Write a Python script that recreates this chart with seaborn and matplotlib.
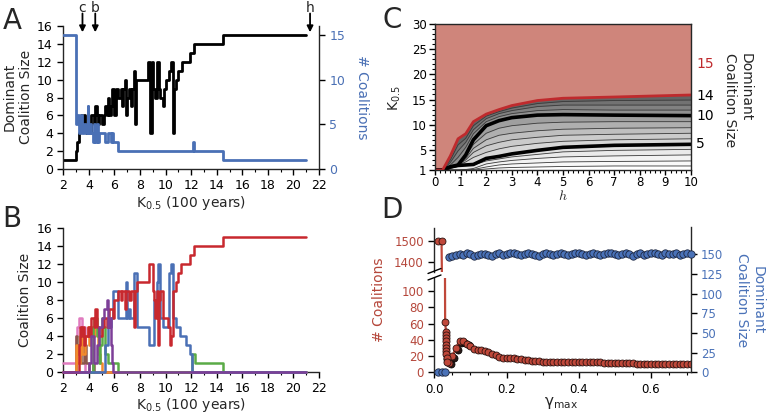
import numpy as np
import pandas as pd
import matplotlib
matplotlib.use("Agg")
import matplotlib.pyplot as plt
from matplotlib.ticker import MultipleLocator, FixedLocator
from matplotlib.lines import Line2D
import seaborn as sns

# ------------------------------------------------------------------ data
# Panel A: dominant coalition size and number of coalitions vs K0.5
dom_x = [2.0, 3.0, 3.1, 3.2, 3.3, 3.4, 3.5, 3.6, 3.7, 3.8,
         4.2, 4.4, 4.5, 4.6, 4.7, 4.8, 5.0, 5.2, 5.3, 5.4,
         5.5, 5.6, 5.7, 5.8, 6.0, 6.1, 6.3, 6.5, 6.6, 6.7,
         6.8, 6.9, 7.0, 7.1, 7.3, 7.4, 7.5, 7.6, 7.7, 8.6,
         8.8, 8.9, 9.0, 9.2, 9.3, 9.5, 9.6, 9.8, 9.9, 10.0,
         10.3, 10.4, 10.55, 10.65, 10.8, 11.0, 11.3, 11.9, 12.2, 14.5,
         21.0]
dom_y = [1, 2, 3, 4, 5, 6, 5, 6, 5, 4,
         6, 5, 7, 6, 5, 6, 5, 6, 7, 6,
         8, 6, 7, 9, 6, 9, 8, 9, 7, 9,
         10, 6, 8, 9, 7, 9, 11, 5, 10, 12,
         4, 12, 9, 8, 12, 9, 8, 7, 9, 10,
         11, 12, 4, 9, 10, 11, 12, 13, 14, 15,
         15]
ncoal_x = [2.0, 3.0, 3.1, 3.2, 3.3, 3.4, 3.5, 3.6, 3.8, 3.9,
           3.95, 4.1, 4.2, 4.3, 4.4, 4.5, 4.6, 4.7, 4.8, 5.3,
           5.5, 5.7, 5.8, 5.9, 6.3, 12.15, 12.25, 14.5, 21.0]
ncoal_y = [15, 5, 6, 4, 5, 6, 4, 5, 4, 7,
           4, 5, 4, 3, 5, 3, 5, 3, 4, 3,
           4, 3, 4, 3, 2, 3, 2, 1, 1]
arrow_labels = ["c", "b", "h"]
arrow_k = [3.5, 4.5, 21.3]

# Panel B: individual coalition sizes
pink_x = [2.0, 3.0, 3.1, 3.2, 3.45, 3.55, 3.7, 21.0]
pink_y = [1, 4, 5, 6, 3, 5, 0, 0]
brown_x = [2.0, 3.0, 3.1, 3.2, 3.4, 3.6, 3.8, 4.0, 4.3, 4.4, 21.0]
brown_y = [0, 4, 2, 3, 1, 3, 1, 0, 1, 0, 0]
orange_x = [2.0, 3.0, 3.1, 3.3, 3.5, 3.7, 3.9, 4.0, 4.1, 4.3, 4.5, 4.7, 4.9, 5.0, 21.0]
orange_y = [0, 3, 1, 4, 2, 4, 5, 3, 5, 4, 5, 2, 1, 0, 0]
green_x = [2.0, 4.3, 4.4, 4.6, 4.8, 4.9, 5.0, 5.1, 5.3, 5.5, 6.3, 12.1, 12.3, 14.5, 21.0]
green_y = [0, 5, 6, 4, 1, 3, 6, 5, 2, 1, 0, 2, 1, 0, 0]
blue_x = [2.0, 5.3, 5.5, 5.7, 5.9, 6.3, 6.9, 7.0, 7.1, 7.2,
          7.5, 7.8, 8.7, 9.1, 9.3, 9.4, 9.6, 9.8, 10.3, 10.45,
          10.6, 10.8, 11.1, 11.6, 11.9, 12.1, 21.0]
blue_y = [0, 3, 5, 6, 9, 6, 10, 6, 7, 6,
          11, 5, 3, 8, 10, 12, 6, 5, 11, 12,
          6, 5, 4, 3, 2, 0, 0]
red_x = [2.0, 3.2, 3.3, 3.4, 3.5, 3.6, 3.7, 3.9, 4.0, 4.2,
         4.4, 4.5, 4.6, 4.8, 5.0, 5.2, 5.4, 5.6, 5.9, 6.0,
         6.3, 6.5, 6.6, 6.8, 6.9, 7.1, 7.3, 7.5, 7.6, 7.8,
         8.7, 9.0, 9.1, 9.2, 9.3, 9.4, 9.5, 9.6, 9.8, 10.2,
         10.35, 10.45, 10.6, 10.8, 11.0, 11.2, 11.9, 12.2, 14.5, 21.0]
red_y = [0, 3, 5, 4, 5, 3, 4, 5, 4, 6,
         5, 7, 5, 4, 5, 6, 5, 7, 6, 8,
         9, 8, 9, 7, 9, 8, 9, 5, 9, 10,
         12, 9, 8, 6, 9, 3, 8, 9, 6, 5,
         3, 4, 9, 10, 11, 12, 13, 14, 15, 15]
purple_x = [2.0, 4.0, 4.2, 4.4, 4.6, 4.8, 5.0, 5.2, 5.4, 5.5, 5.6, 5.7, 5.8, 5.9, 21.0]
purple_y = [0, 1, 4, 1, 3, 5, 6, 7, 8, 5, 6, 3, 1, 0, 0]

# Panel C: K0.5 at which dominant coalition size n -> n+1, vs h
h_grid = [0, 0.3, 0.6, 0.9, 1.2, 1.5, 2.0, 2.5, 3.0, 4.0, 5.0, 7.0, 10.0]
k_size1 = [1, 1, 1, 1, 1, 1.0, 1.2, 1.4, 1.5, 1.6, 1.7, 1.8, 1.8]
k_size2 = [1, 1, 1, 1, 1, 1.1, 1.6, 2.0, 2.2, 2.4, 2.6, 2.7, 2.8]
k_size3 = [1, 1, 1, 1, 1.1, 1.3, 2.2, 2.6, 2.9, 3.3, 3.6, 3.8, 4.0]
k_size4 = [1, 1, 1.5, 1.8, 1.9, 2.0, 2.8, 3.2, 3.6, 4.1, 4.6, 4.9, 5.1]
k_size5 = [1, 1, 1.6, 1.9, 2.0, 2.1, 3.3, 3.7, 4.2, 4.9, 5.5, 5.9, 6.1]
k_size6 = [1, 1, 1.6, 2.0, 2.6, 3.5, 4.5, 5.2, 5.7, 6.3, 6.7, 7.0, 7.2]
k_size7 = [1, 1, 1.6, 2.0, 3.0, 4.5, 5.8, 6.5, 7.0, 7.5, 7.9, 8.1, 8.3]
k_size8 = [1, 1, 1.6, 2.0, 3.3, 5.3, 7.0, 7.9, 8.3, 8.8, 9.1, 9.3, 9.4]
k_size9 = [1, 1, 1.6, 2.0, 3.6, 6.1, 8.3, 9.3, 9.8, 10.3, 10.5, 10.6, 10.6]
k_size10 = [1, 1, 1.6, 2.0, 4.0, 7.0, 9.8, 10.8, 11.4, 11.9, 12.0, 11.9, 11.8]
k_size11 = [1, 1, 2.0, 3.5, 5.5, 8.2, 10.6, 11.6, 12.2, 12.8, 13.0, 12.9, 12.9]
k_size12 = [1, 1, 2.5, 4.8, 6.5, 9.0, 11.2, 12.2, 12.8, 13.6, 13.9, 13.9, 13.9]
k_size13 = [1, 1, 3.0, 6.0, 7.3, 9.8, 11.7, 12.6, 13.3, 14.2, 14.6, 14.8, 14.9]
k_size14 = [1, 1, 3.8, 7.2, 8.2, 10.6, 12.1, 13.0, 13.8, 14.8, 15.25, 15.5, 15.9]
c_labels = ["5", "10", "14", "15"]
c_label_k = [6.1, 11.8, 15.6, 22.0]

# Panel D: number of coalitions / dominant size vs gamma_max
gamma = np.round(np.arange(1, 72) * 0.01, 2)
ncoal_d = [1500, 1500, 62, 11, 20, 30, 39, 38, 35, 32,
           29, 28, 27, 26, 25, 23, 21, 19, 18, 18,
           17, 17, 16, 16, 15, 15, 14, 14, 14, 13,
           13, 13, 13, 13, 13, 13, 13, 13, 13, 13,
           13, 13, 13, 13, 13, 13, 12, 12, 12, 12,
           12, 12, 12, 12, 12, 10, 10, 10, 10, 10,
           10, 10, 10, 10, 10, 10, 10, 10, 10, 10,
           10]
stack_gamma = [0.032, 0.032, 0.032, 0.032, 0.032, 0.032, 0.032, 0.032, 0.036, 0.036]
stack_ncoal = [50, 46, 42, 38, 34, 30, 26, 22, 17, 13]
dark_gamma = [0.035, 0.045, 0.055, 0.065, 0.075, 0.085, 0.095]
dark_ncoal = [16, 10, 17, 27, 36, 36, 33]
domsize_d = [0, 0, 0,
             147, 148, 149, 150, 149, 151, 150, 148, 149, 150,
             150, 149, 148, 150, 151, 149, 150, 152, 151, 150,
             149, 150, 151, 150, 149, 148, 150, 151, 150, 149,
             150, 151, 150, 149, 150, 152, 151, 150, 149, 150,
             151, 150, 149, 150, 151, 152, 150, 149, 150, 151,
             150, 148, 150, 151, 149, 150, 151, 152, 150, 149,
             151, 150, 150, 151, 149, 150, 151, 150]

# ------------------------------------------------------------------ style
sns.set_style("ticks")
plt.rcParams["font.family"] = ["DejaVu Sans"]
plt.rcParams["axes.linewidth"] = 1.0
for ax_ in ("xtick", "ytick"):
    plt.rcParams[f"{ax_}.major.width"] = 1.0
    plt.rcParams[f"{ax_}.minor.width"] = 0.8
    plt.rcParams[f"{ax_}.major.size"] = 4.0
    plt.rcParams[f"{ax_}.minor.size"] = 2.2
    plt.rcParams[f"{ax_}.direction"] = "out"
    plt.rcParams[f"{ax_}.color"] = "black"

BLUE = "#4a70b5"
RED_B = "#c8282e"
FILL_RED = "#cf857b"
LINE_RED = "#bf2a2d"
D_RED = "#c0483a"
D_RED_TXT = "#b5473b"
D_BLUE = "#4a72b8"

W, H = 767, 416
fig = plt.figure(figsize=(W / 100, H / 100), dpi=100)


def px_rect(x0, y0, x1, y1):
    return [x0 / W, 1 - y1 / H, (x1 - x0) / W, (y1 - y0) / H]


def ftext(x, y, s, **kw):
    fig.text(x / W, 1 - y / H, s, ha=kw.pop("ha", "center"), va=kw.pop("va", "center"), **kw)


# ------------------------------------------------------------------ panel A
axA = fig.add_axes(px_rect(63.3, 26, 319, 169))
sns.lineplot(x=dom_x, y=dom_y, drawstyle="steps-post", color="black", lw=2.0, ax=axA)
axA2 = axA.twinx()
axA2.set_position(axA.get_position())
sns.lineplot(x=ncoal_x, y=ncoal_y, drawstyle="steps-post", color=BLUE, lw=2.0, ax=axA2)
axA.set_xlim(2, 22)
axA.set_ylim(0, 16)
axA2.set_ylim(0, 16)
axA.xaxis.set_major_locator(MultipleLocator(2))
axA.xaxis.set_minor_locator(MultipleLocator(1))
axA.yaxis.set_major_locator(MultipleLocator(2))
axA2.yaxis.set_major_locator(FixedLocator([0, 5, 10, 15]))
axA.tick_params(labelsize=9)
axA2.tick_params(labelsize=9, labelcolor=BLUE)
axA.spines["top"].set_visible(False)
axA.spines["right"].set_visible(False)
axA2.spines["top"].set_visible(False)
axA2.spines["left"].set_visible(False)
axA2.spines["bottom"].set_visible(False)
axA.set_xlabel("")
axA.set_ylabel("")
axA2.set_ylabel("")
for lab, k in zip(arrow_labels, arrow_k):
    axA.annotate("", xy=(k, 15.3), xytext=(k, 17.4),
                 arrowprops=dict(arrowstyle="-|>", color="black", lw=1.3,
                                 mutation_scale=9, shrinkA=0, shrinkB=0),
                 annotation_clip=False)
    axA.text(k, 17.55, lab, ha="center", va="baseline", fontsize=10, clip_on=False)

# ------------------------------------------------------------------ panel B
axB = fig.add_axes(px_rect(63.3, 228.3, 319, 371.7))
for xs, ys, col in [(pink_x, pink_y, "#e07bbf"), (brown_x, brown_y, "#8c564b"),
                    (orange_x, orange_y, "#f28a2c"), (green_x, green_y, "#5aab46"),
                    (blue_x, blue_y, BLUE), (red_x, red_y, RED_B),
                    (purple_x, purple_y, "#7d3f98")]:
    sns.lineplot(x=xs, y=ys, drawstyle="steps-post", color=col, lw=1.8, ax=axB,
                 clip_on=False, zorder=3)
axB.set_xlim(2, 22)
axB.set_ylim(0, 16)
axB.xaxis.set_major_locator(MultipleLocator(2))
axB.xaxis.set_minor_locator(MultipleLocator(1))
axB.yaxis.set_major_locator(MultipleLocator(2))
axB.tick_params(labelsize=9)
axB.spines["top"].set_visible(False)
axB.spines["right"].set_visible(False)
axB.set_xlabel("")
axB.set_ylabel("")

# ------------------------------------------------------------------ panel C
axC = fig.add_axes(px_rect(435, 24, 691, 170))
axC.set_facecolor(FILL_RED)
curves = [k_size1, k_size2, k_size3, k_size4, k_size5, k_size6, k_size7,
          k_size8, k_size9, k_size10, k_size11, k_size12, k_size13, k_size14]
greys = plt.cm.Greys(np.linspace(0.0, 0.68, len(curves)))
for n in range(len(curves) - 1, -1, -1):
    axC.fill_between(h_grid, 1, curves[n], color=greys[n], lw=0, zorder=1)
for n, cv in enumerate(curves):
    size = n + 1
    if size in (5, 10):
        sns.lineplot(x=h_grid, y=cv, color="black", lw=2.6, ax=axC, zorder=4)
    elif size == 14:
        sns.lineplot(x=h_grid, y=cv, color=LINE_RED, lw=2.0, ax=axC, zorder=4)
    else:
        sns.lineplot(x=h_grid, y=cv, color="#3a3a3a", lw=0.6, ax=axC, zorder=3)
axC.set_xlim(0, 10)
axC.set_ylim(1, 30)
axC.xaxis.set_major_locator(MultipleLocator(1))
axC.xaxis.set_minor_locator(MultipleLocator(0.2))
axC.yaxis.set_major_locator(FixedLocator([1, 5, 10, 15, 20, 25, 30]))
axC.yaxis.set_minor_locator(MultipleLocator(1))
axC.tick_params(labelsize=8.5, pad=2)
axC.tick_params(axis="x", pad=0.5, length=3.5)
axC.set_xlabel("")
axC.set_ylabel("")
for s in axC.spines.values():
    s.set_zorder(5)
for lab, k in zip(c_labels, c_label_k):
    axC.text(10.2, k, lab, ha="left", va="center", fontsize=10, clip_on=False,
             color=LINE_RED if lab == "15" else "black")

# ------------------------------------------------------------------ panel D
axDl = fig.add_axes(px_rect(434.3, 278, 690.7, 372.3))
axDu = fig.add_axes(px_rect(434.3, 228, 690.7, 272))
axDr = fig.add_axes(px_rect(434.3, 227, 690.7, 372.3))
axDr.patch.set_alpha(0)

mk = dict(marker="o", markersize=5.0, markeredgecolor="#2a1210", markeredgewidth=0.6)
for ax_ in (axDl, axDu):
    ax_.scatter(dark_gamma, dark_ncoal, s=26, color="#2a1a18", edgecolor="black",
                lw=0.5, zorder=2, clip_on=True)
    sns.lineplot(x=gamma, y=ncoal_d, color=D_RED, lw=1.6, ax=ax_, zorder=3, **mk)
    ax_.scatter(stack_gamma, stack_ncoal, s=26, color=D_RED, edgecolor="#2a1210",
                lw=0.6, zorder=4)
    ax_.set_xlim(0, 0.71)
    ax_.set_xlabel("")
    ax_.set_ylabel("")
sns.scatterplot(x=gamma, y=domsize_d, color=D_BLUE, s=28, edgecolor="#1d2740",
                linewidth=0.6, ax=axDr, zorder=3, clip_on=False)
axDr.set_xlim(0, 0.71)
axDr.set_ylim(0, 184.6)
axDl.set_ylim(0, 116)
axDu.set_ylim(1355, 1559)

axDl.set_yticks([0, 20, 40, 60, 80, 100])
axDu.set_yticks([1400, 1500])
axDl.xaxis.set_major_locator(MultipleLocator(0.2))
axDl.xaxis.set_minor_locator(MultipleLocator(0.05))
axDu.set_xticks([])
axDr.set_xticks([])
axDr.yaxis.tick_right()
axDr.set_yticks([0, 25, 50, 75, 100, 125, 150])
axDl.tick_params(labelsize=8.5)
axDl.tick_params(axis="y", labelcolor=D_RED_TXT)
axDu.tick_params(labelsize=8.5, labelcolor=D_RED_TXT)
axDr.tick_params(labelsize=8.5, labelcolor=D_BLUE)
for nm in ("top", "right"):
    axDl.spines[nm].set_visible(False)
for nm in ("top", "right", "bottom"):
    axDu.spines[nm].set_visible(False)
for nm in ("top", "left", "bottom"):
    axDr.spines[nm].set_visible(False)
axDr.set_xlabel("")
axDr.set_ylabel("")

# broken-axis marks
for yc in (271.0, 277.5):
    fig.add_artist(Line2D([428 / W, 441 / W], [1 - (yc + 2.5) / H, 1 - (yc - 2.5) / H],
                          transform=fig.transFigure, color="black", lw=1.0))

# ------------------------------------------------------------------ labels
ftext(12, 21, "A", fontsize=20)
ftext(12, 219, "B", fontsize=20)
ftext(392, 20, "C", fontsize=20)
ftext(392, 210, "D", fontsize=20)

ftext(18, 97, "Dominant\nCoalition Size", rotation=90, fontsize=10)
ftext(362, 97, "# Coalitions", rotation=270, fontsize=10, color=BLUE)
ftext(191, 203, "K$_{0.5}$ (100 years)", fontsize=10)
ftext(25, 300, "Coalition Size", rotation=90, fontsize=10)
ftext(191, 405, "K$_{0.5}$ (100 years)", fontsize=10)

ftext(395, 98, "K$_{0.5}$", rotation=90, fontsize=10)
ftext(563, 196.5, "$h$", fontsize=10, math_fontfamily="cm")
ftext(738, 100, "Dominant\nCoalition Size", rotation=270, fontsize=10,
      multialignment="left")

ftext(379, 300, "# Coalitions", rotation=90, fontsize=10, color=D_RED_TXT)
ftext(750, 300, "Dominant\nCoalition Size", rotation=270, fontsize=10, color=D_BLUE)
ftext(561, 403, "γ$_{\\mathregular{max}}$", fontsize=11)

fig.savefig("out.png", dpi=100)
